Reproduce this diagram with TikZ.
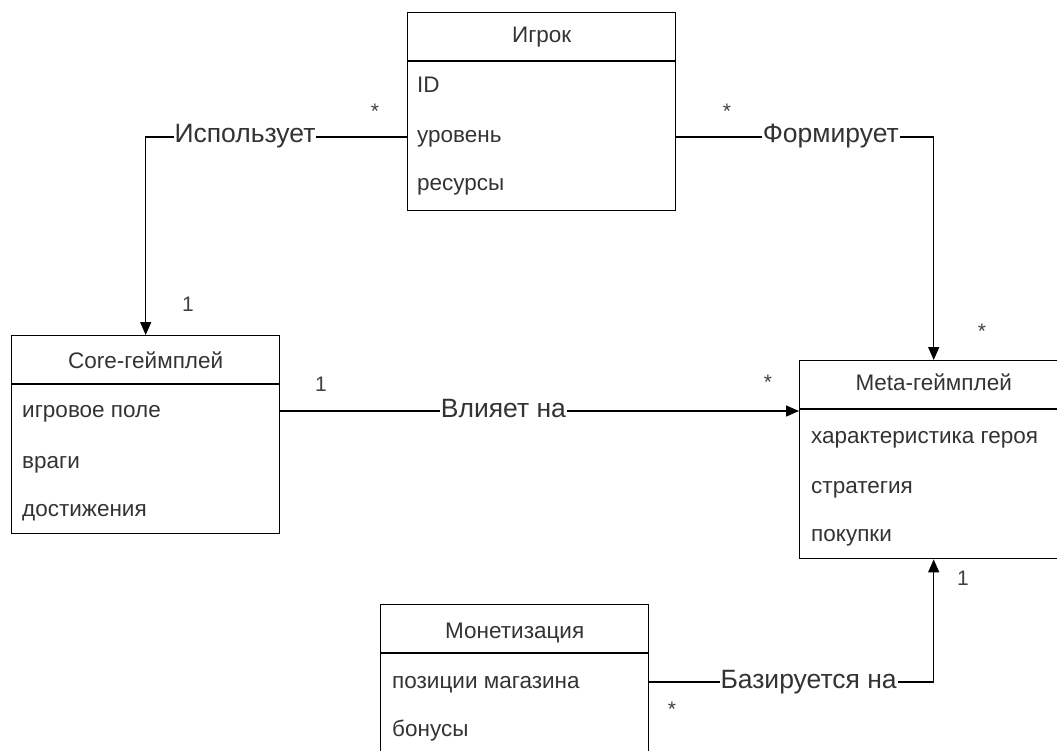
\documentclass[tikz,border=0pt]{standalone}
\usepackage{fontspec}
\setmainfont{Liberation Sans}
\usetikzlibrary{arrows.meta, positioning}

\begin{document}
\begin{tikzpicture}[
  x=1pt, y=-1pt,
  cls/.style={rectangle, draw, line width=1.4pt, minimum width=268pt, minimum height=198pt, anchor=north west, inner sep=0pt},
  head/.style={font=\fontsize{22.5}{26}\selectfont, text=black!80, text height=16pt, text depth=4pt},
  attr/.style={anchor=west, font=\fontsize{22.5}{26}\selectfont, text=black!80, text height=16pt, text depth=4pt, inner sep=0pt},
  rel/.style={line width=1.4pt},
  arrow/.style={rel, -{Triangle[length=13pt, width=11pt]}},
  lbl/.style={fill=white, inner sep=1pt, font=\fontsize{26.5}{30}\selectfont, text=black!80, text height=17pt, text depth=5pt},
  mult/.style={font=\fontsize{21}{24}\selectfont, text=black!75}
]
  \clip (0,0) rectangle (1057,751);

  % classes
  \node[cls] (player) at (407,12) {};
  \node[cls] (core) at (11,335) {};
  \node[cls] (meta) at (799,360) {};
  \node[cls] (monet) at (380,604) {};

  \foreach \c in {player, core, meta, monet}
    \draw[line width=1.4pt] ([yshift=-49pt]\c.north west) -- ([yshift=-49pt]\c.north east);

  % player
  \node[head] (playert) at ([yshift=-25pt]player.north) {Игрок};
  \node[attr] (pid) at ([xshift=10pt, yshift=-75pt]player.north west) {ID};
  \node[attr] (plvl) at ([xshift=10pt, yshift=-125pt]player.north west) {уровень};
  \node[attr] (pres) at ([xshift=10pt, yshift=-173pt]player.north west) {ресурсы};

  % core
  \node[head] (coret) at ([yshift=-27pt]core.north) {Core-геймплей};
  \node[attr] (cfield) at ([xshift=11pt, yshift=-76pt]core.north west) {игровое поле};
  \node[attr] (cfoe) at ([xshift=11pt, yshift=-127pt]core.north west) {враги};
  \node[attr] (cach) at ([xshift=11pt, yshift=-175pt]core.north west) {достижения};

  % meta
  \node[head] (metat) at ([yshift=-24pt]meta.north) {Meta-геймплей};
  \node[attr] (mhero) at ([xshift=12pt, yshift=-77pt]meta.north west) {характеристика героя};
  \node[attr] (mstr) at ([xshift=12pt, yshift=-127pt]meta.north west) {стратегия};
  \node[attr] (mbuy) at ([xshift=12pt, yshift=-175pt]meta.north west) {покупки};

  % monetization
  \node[head] (monett) at ([yshift=-28pt]monet.north) {Монетизация};
  \node[attr] (mshop) at ([xshift=12pt, yshift=-78pt]monet.north west) {позиции магазина};
  \node[attr] (mbonus) at ([xshift=12pt, yshift=-126pt]monet.north west) {бонусы};

  % relations
  \draw[arrow] (player.west |- plvl) -| node[lbl, pos=0.31] {Использует} (core.north);
  \draw[arrow] (player.east |- plvl) -| node[lbl, pos=0.3] {Формирует} (meta.north);
  \draw[arrow] (core.east |- cfield) -- node[lbl, pos=0.43] {Влияет на} (meta.west |- cfield);
  \draw[arrow] (monet.east |- mshop) -| node[lbl, pos=0.28] {Базируется на} (meta.south);

  % multiplicities
  \node[mult] (m1) at (375,111) {*};
  \node[mult] (m2) at (188,304) {1};
  \node[mult] (m3) at (727,111) {*};
  \node[mult] (m4) at (982,331) {*};
  \node[mult] (m5) at (321,384) {1};
  \node[mult] (m6) at (768,382) {*};
  \node[mult] (m7) at (672,709) {*};
  \node[mult] (m8) at (963,578) {1};
\end{tikzpicture}
\end{document}
